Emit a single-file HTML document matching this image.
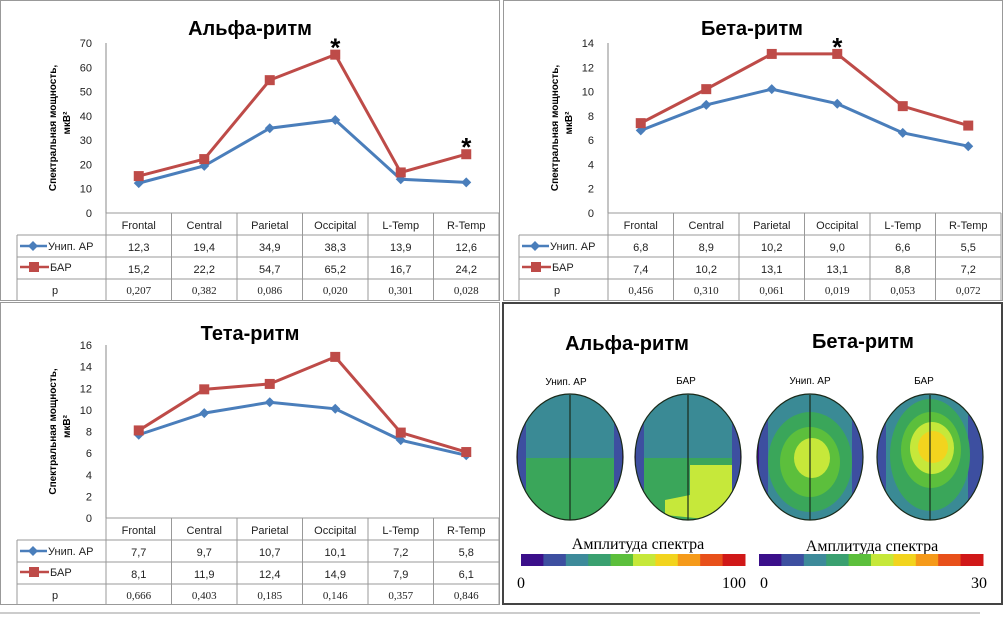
<!DOCTYPE html>
<html><head><meta charset="utf-8">
<style>
body{margin:0;background:#fff;}
svg{display:block;font-family:"Liberation Sans","DejaVu Sans",sans-serif;}
</style></head>
<body>
<svg id="root" width="1005" height="619" viewBox="0 0 1005 619" xmlns="http://www.w3.org/2000/svg">
<defs>
<clipPath id="cb1"><ellipse cx="570" cy="457" rx="53" ry="63"/></clipPath>
<clipPath id="cb2"><ellipse cx="688" cy="457" rx="53" ry="63"/></clipPath>
<clipPath id="cb3"><ellipse cx="810" cy="457" rx="53" ry="63"/></clipPath>
<clipPath id="cb4"><ellipse cx="930" cy="457" rx="53" ry="63"/></clipPath>
</defs>
<rect x="0" y="0" width="1005" height="619" fill="#fff"/>
<rect x="0.5" y="0.5" width="499" height="300" fill="none" stroke="#999"/>
<rect x="503.5" y="0.5" width="499" height="300" fill="none" stroke="#999"/>
<rect x="0.5" y="302.5" width="499" height="302" fill="none" stroke="#999"/>
<rect x="503" y="303" width="499" height="301" fill="none" stroke="#444" stroke-width="2"/>
<line x1="0" y1="613" x2="980" y2="613" stroke="#ccc" stroke-width="2"/>
<g id="charts"></g>

<g font-size="12">
<text x="627" y="350" font-size="20" font-weight="bold" text-anchor="middle">Альфа-ритм</text>
<text x="863" y="348" font-size="20" font-weight="bold" text-anchor="middle">Бета-ритм</text>
<text x="566" y="385" text-anchor="middle" font-size="10">Унип. АР</text>
<text x="686" y="384" text-anchor="middle" font-size="10">БАР</text>
<text x="810" y="384" text-anchor="middle" font-size="10">Унип. АР</text>
<text x="924" y="384" text-anchor="middle" font-size="10">БАР</text>

<g clip-path="url(#cb1)">
<rect x="510" y="385" width="120" height="140" fill="#3a8a95"/>
<rect x="510" y="458" width="120" height="70" fill="#3aa65a"/>
<rect x="510" y="400" width="16" height="110" fill="#3d4fa0"/>
<rect x="614" y="400" width="16" height="110" fill="#3d4fa0"/>
<rect x="510" y="430" width="8" height="70" fill="#3b0f8a"/>
<rect x="622" y="430" width="8" height="70" fill="#3b0f8a"/>
</g>
<g clip-path="url(#cb2)">
<rect x="628" y="385" width="120" height="140" fill="#3a8a95"/>
<rect x="628" y="458" width="120" height="70" fill="#3aa65a"/>
<path d="M690 465 L740 465 L740 500 L715 520 L665 515 L665 500 L690 495 Z" fill="#c6e83a"/>
<rect x="628" y="400" width="16" height="110" fill="#3d4fa0"/>
<rect x="732" y="400" width="16" height="110" fill="#3d4fa0"/>
<rect x="628" y="430" width="8" height="70" fill="#3b0f8a"/>
<rect x="740" y="430" width="8" height="70" fill="#3b0f8a"/>
</g>
<g clip-path="url(#cb3)">
<rect x="750" y="385" width="120" height="140" fill="#3a8a95"/>
<rect x="750" y="410" width="18" height="100" fill="#3d4fa0"/>
<rect x="852" y="410" width="18" height="100" fill="#3d4fa0"/>
<rect x="750" y="430" width="9" height="60" fill="#3b0f8a"/>
<ellipse cx="810" cy="462" rx="42" ry="50" fill="#3aa65a"/>
<ellipse cx="810" cy="462" rx="30" ry="35" fill="#5cbf3c"/>
<ellipse cx="812" cy="458" rx="18" ry="20" fill="#c6e83a"/>
</g>
<g clip-path="url(#cb4)">
<rect x="870" y="385" width="120" height="140" fill="#3a8a95"/>
<rect x="968" y="415" width="16" height="90" fill="#3d4fa0"/>
<rect x="876" y="420" width="10" height="80" fill="#3d4fa0"/>
<ellipse cx="930" cy="455" rx="40" ry="56" fill="#3aa65a"/>
<ellipse cx="931" cy="450" rx="30" ry="38" fill="#5cbf3c"/>
<ellipse cx="932" cy="448" rx="22" ry="26" fill="#c6e83a"/>
<ellipse cx="933" cy="447" rx="15" ry="16" fill="#f2d41e"/>
</g>
<g fill="none" stroke="#1a2a1a" stroke-width="1.2">
<ellipse cx="570" cy="457" rx="53" ry="63"/><line x1="570" y1="395" x2="570" y2="520"/>
<ellipse cx="688" cy="457" rx="53" ry="63"/><line x1="688" y1="395" x2="688" y2="520"/>
<ellipse cx="810" cy="457" rx="53" ry="63"/><line x1="810" y1="395" x2="810" y2="520"/>
<ellipse cx="930" cy="457" rx="53" ry="63"/><line x1="930" y1="395" x2="930" y2="520"/>
</g>

<text x="638" y="549" font-family="Liberation Serif,serif" font-size="16" text-anchor="middle">Амплитуда спектра</text>
<text x="872" y="551" font-family="Liberation Serif,serif" font-size="16" text-anchor="middle">Амплитуда спектра</text>
<g id="cbars"></g>
<text x="517" y="588" font-family="Liberation Serif,serif" font-size="16">0</text>
<text x="746" y="588" font-family="Liberation Serif,serif" font-size="16" text-anchor="end">100</text>
<text x="760" y="588" font-family="Liberation Serif,serif" font-size="16">0</text>
<text x="987" y="588" font-family="Liberation Serif,serif" font-size="16" text-anchor="end">30</text>
</g>
</svg>
<script>
const categories = ["Frontal","Central","Parietal","Occipital","L-Temp","R-Temp"];
const alphaUni = [12.3,19.4,34.9,38.3,13.9,12.6];
const alphaBar = [15.2,22.2,54.7,65.2,16.7,24.2];
const alphaP = ["0,207","0,382","0,086","0,020","0,301","0,028"];
const alphaTicks = [0,10,20,30,40,50,60,70];
const alphaStars = [3,5];
const betaUni = [6.8,8.9,10.2,9.0,6.6,5.5];
const betaBar = [7.4,10.2,13.1,13.1,8.8,7.2];
const betaP = ["0,456","0,310","0,061","0,019","0,053","0,072"];
const betaTicks = [0,2,4,6,8,10,12,14];
const betaStars = [3];
const thetaUni = [7.7,9.7,10.7,10.1,7.2,5.8];
const thetaBar = [8.1,11.9,12.4,14.9,7.9,6.1];
const thetaP = ["0,666","0,403","0,185","0,146","0,357","0,846"];
const thetaTicks = [0,2,4,6,8,10,12,14,16];
const thetaStars = [];
const colorbarColors = ["#3b0f8a","#3d4fa0","#3d8a9a","#3aa070","#5cbf3c","#c6e83a","#f2d41e","#f59a1a","#e8501a","#d01818"];

const NS="http://www.w3.org/2000/svg";
function mk(tag, attrs, parent){const e=document.createElementNS(NS,tag);for(const k in attrs)e.setAttribute(k,attrs[k]);parent.appendChild(e);return e;}
const charts=document.getElementById('charts');

function drawChart(key,title,ox,oy,top,bottom,uni,bar,p,ticks,stars){
  const g=mk('g',{},charts);
  
  
  const ax=ox+106, right=ox+499, legendX=ox+17;
  const maxV=ticks[ticks.length-1];
  const y=v=>bottom-(v/maxV)*(bottom-top);
  const cw=(right-ax)/categories.length;
  const x=i=>ax+cw*(i+0.5);
  const t=mk('text',{x:ox+250,y:oy+35,'font-size':20,'font-weight':'bold','text-anchor':'middle'},g);
  t.textContent=title;
  
  
  const yt=mk('text',{transform:`translate(${ox+56},${(top+bottom)/2}) rotate(-90)`,'font-size':10,'font-weight':'bold','text-anchor':'middle'},g);
  yt.textContent='Спектральная мощность,';
  
  
  const yt2=mk('text',{transform:`translate(${ox+70},${(top+bottom)/2-5}) rotate(-90)`,'font-size':10,'font-weight':'bold','text-anchor':'middle'},g);
  yt2.textContent='мкВ²';
  
  
  mk('line',{x1:ax,y1:top,x2:ax,y2:bottom,stroke:'#888'},g);
  ticks.forEach(v=>{
    const tl=mk('text',{x:ax-14,y:y(v)+4,'font-size':11,'text-anchor':'end',fill:'#222'},g);
    tl.textContent=v;
    
    
  });
  const r0=bottom, r1=bottom+22, r2=r1+22, r3=r2+22, r4=r3+21;
  const lc='#999';
  mk('line',{x1:ax,y1:r0,x2:right,y2:r0,stroke:lc},g);
  [r1,r2,r3].forEach(r=>mk('line',{x1:legendX,y1:r,x2:right,y2:r,stroke:lc},g));
  mk('line',{x1:legendX,y1:r1,x2:legendX,y2:r4,stroke:lc},g);
  for(let i=0;i<=categories.length;i++){mk('line',{x1:ax+cw*i,y1:r0,x2:ax+cw*i,y2:r4,stroke:lc},g);}
  categories.forEach((c,i)=>{
    const ct=mk('text',{x:x(i),y:r0+16,'font-size':11,'text-anchor':'middle',fill:'#222'},g);
    ct.textContent=c;
    
    
    const a=mk('text',{x:x(i),y:r1+16,'font-size':11,'text-anchor':'middle',fill:'#222'},g);
    a.textContent=String(uni[i].toFixed(1)).replace('.',',');
    
    
    const b=mk('text',{x:x(i),y:r2+16,'font-size':11,'text-anchor':'middle',fill:'#222'},g);
    b.textContent=String(bar[i].toFixed(1)).replace('.',',');
    
    
    const pc=mk('text',{x:x(i),y:r3+15,'font-size':11,'text-anchor':'middle',fill:'#222','font-family':'Liberation Serif,serif'},g);
    pc.textContent=p[i];
    
    
  });
  mk('line',{x1:legendX+3,y1:r1+11,x2:legendX+30,y2:r1+11,stroke:'#4a7ebb','stroke-width':2.5},g);
  mk('path',{d:`M${legendX+16} ${r1+6} l5 5 l-5 5 l-5 -5 z`,fill:'#4a7ebb'},g);
  const l1=mk('text',{x:legendX+31,y:r1+15,'font-size':11,fill:'#222'},g);l1.textContent='Унип. АР';
  
  
  mk('line',{x1:legendX+3,y1:r2+10,x2:legendX+32,y2:r2+10,stroke:'#be4b48','stroke-width':2.5},g);
  mk('rect',{x:legendX+12,y:r2+5,width:10,height:10,fill:'#be4b48'},g);
  const l2=mk('text',{x:legendX+33,y:r2+14,'font-size':11,fill:'#222'},g);l2.textContent='БАР';
  
  
  const l3=mk('text',{x:legendX+38,y:r3+15,'font-size':11,'text-anchor':'middle',fill:'#222'},g);l3.textContent='p';
  
  
  const pu=mk('polyline',{points:uni.map((v,i)=>x(i)+','+y(v)).join(' '),fill:'none',stroke:'#4a7ebb','stroke-width':3},g);
  
  
  const pb=mk('polyline',{points:bar.map((v,i)=>x(i)+','+y(v)).join(' '),fill:'none',stroke:'#be4b48','stroke-width':3},g);
  
  
  uni.forEach((v,i)=>{
    const d=mk('path',{d:`M${x(i)} ${y(v)-5} l5 5 l-5 5 l-5 -5 z`,fill:'#4a7ebb'},g);
    
    
  });
  bar.forEach((v,i)=>{
    const s=mk('rect',{x:x(i)-5,y:y(v)-5,width:10,height:10,fill:'#be4b48'},g);
    
    
  });
  stars.forEach(i=>{
    const s=mk('text',{x:x(i),y:y(bar[i])+2,'font-size':26,'font-weight':'bold','text-anchor':'middle'},g);
    s.textContent='*';
    
    
  });
}
drawChart('alpha','Альфа-ритм',0,0,43,213,alphaUni,alphaBar,alphaP,alphaTicks,alphaStars);
drawChart('beta','Бета-ритм',502,0,43,213,betaUni,betaBar,betaP,betaTicks,betaStars);
drawChart('theta','Тета-ритм',0,305,345,518,thetaUni,thetaBar,thetaP,thetaTicks,thetaStars);

const cb=document.getElementById('cbars');
[[521,745],[759,983]].forEach(([a,b],k)=>{
  const w=(b-a)/colorbarColors.length;
  colorbarColors.forEach((c,i)=>{
    const r=mk('rect',{x:a+w*i,y:554,width:w+0.5,height:12,fill:c},cb);
    
    
  });
});
</script>
</body></html>
